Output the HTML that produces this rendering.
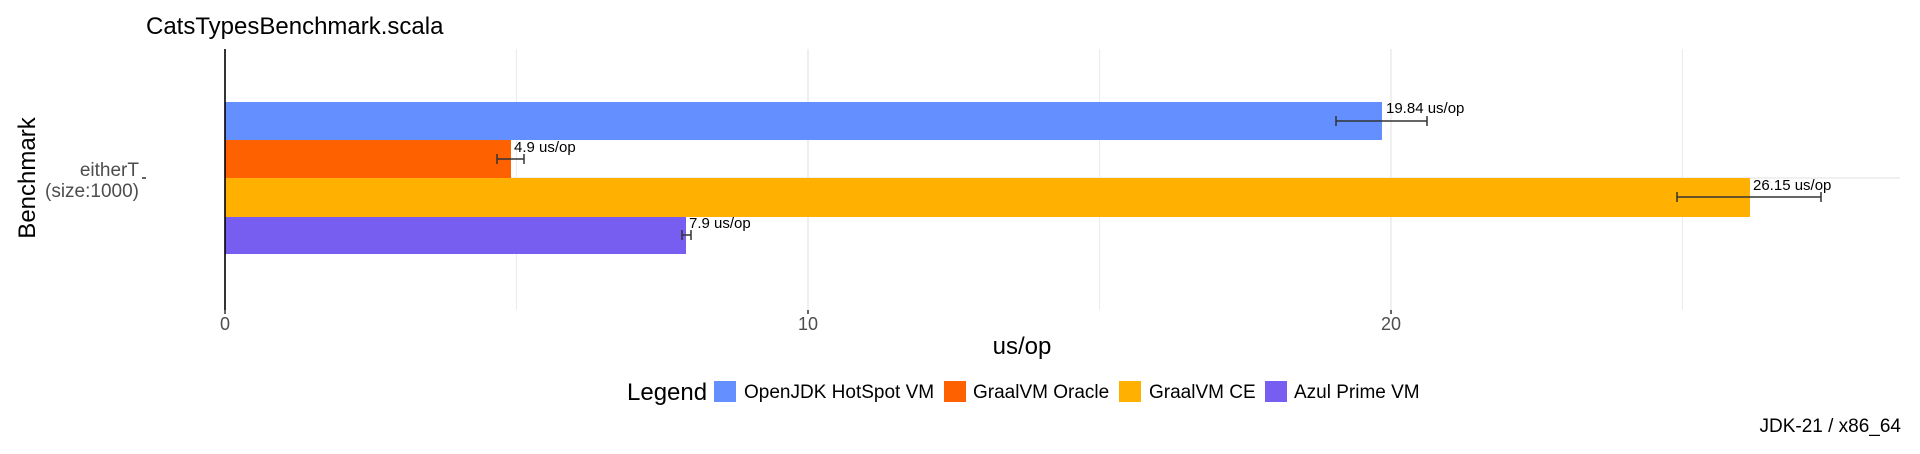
<!DOCTYPE html>
<html><head><meta charset="utf-8"><style>
html,body{margin:0;padding:0;background:#fff;width:1920px;height:454px;overflow:hidden}
svg{display:block;font-family:"Liberation Sans",Arial,sans-serif}
</style></head><body>
<svg width="1920" height="454" viewBox="0 0 1920 454" xmlns="http://www.w3.org/2000/svg">
<rect width="1920" height="454" fill="#fff"/>
<g stroke="#ebebeb" stroke-width="1">
<line x1="516.5" y1="49" x2="516.5" y2="310"/>
<line x1="1099.5" y1="49" x2="1099.5" y2="310"/>
<line x1="1682.5" y1="49" x2="1682.5" y2="310"/>
</g>
<g stroke="#ebebeb" stroke-width="1.6">
<line x1="808" y1="49" x2="808" y2="310"/>
<line x1="1391" y1="49" x2="1391" y2="310"/>
<line x1="225" y1="178" x2="1900" y2="178"/>
</g>
<rect x="225" y="102" width="1157" height="38" fill="#648fff"/>
<rect x="225" y="140" width="286" height="38" fill="#fe6100"/>
<rect x="225" y="178" width="1525" height="39" fill="#ffb000"/>
<rect x="225" y="217" width="461" height="37" fill="#785ef0"/>
<line x1="225" y1="49" x2="225" y2="310" stroke="#000" stroke-width="1.6"/>
<g stroke="#333" stroke-width="1.5">
<line x1="1336" y1="121" x2="1427" y2="121"/><line x1="1336" y1="116" x2="1336" y2="126"/><line x1="1427" y1="116" x2="1427" y2="126"/>
<line x1="497" y1="159" x2="524" y2="159"/><line x1="497" y1="154" x2="497" y2="164"/><line x1="524" y1="154" x2="524" y2="164"/>
<line x1="1677" y1="197" x2="1821" y2="197"/><line x1="1677" y1="192" x2="1677" y2="202"/><line x1="1821" y1="192" x2="1821" y2="202"/>
<line x1="682" y1="235" x2="691" y2="235"/><line x1="682" y1="230" x2="682" y2="240"/><line x1="691" y1="230" x2="691" y2="240"/>
<line x1="142" y1="178" x2="146" y2="178"/>
<line x1="225" y1="310" x2="225" y2="314"/><line x1="808" y1="310" x2="808" y2="314"/><line x1="1391" y1="310" x2="1391" y2="314"/>
</g>
<g font-size="15" fill="#000">
<text x="1386" y="113">19.84 us/op</text>
<text x="514" y="152">4.9 us/op</text>
<text x="1753" y="190">26.15 us/op</text>
<text x="689" y="228">7.9 us/op</text>
</g>
<text x="146" y="34" font-size="24" fill="#000">CatsTypesBenchmark.scala</text>
<g font-size="19" fill="#4d4d4d" text-anchor="end">
<text x="139" y="176">eitherT</text>
<text x="139" y="197">(size:1000)</text>
</g>
<g font-size="18" fill="#4d4d4d" text-anchor="middle">
<text x="225" y="330">0</text><text x="808" y="330">10</text><text x="1391" y="330">20</text>
</g>
<text x="1022" y="354" font-size="24" text-anchor="middle" fill="#000">us/op</text>
<text transform="translate(35,178) rotate(-90)" font-size="24" text-anchor="middle" fill="#000">Benchmark</text>
<text x="627" y="400" font-size="24" fill="#000">Legend</text>
<rect x="714" y="381" width="22" height="21" fill="#648fff"/>
<rect x="944" y="381" width="22" height="21" fill="#fe6100"/>
<rect x="1119" y="381" width="22" height="21" fill="#ffb000"/>
<rect x="1265" y="381" width="22" height="21" fill="#785ef0"/>
<g font-size="19" fill="#000">
<text x="744" y="398">OpenJDK HotSpot VM</text>
<text x="973" y="398">GraalVM Oracle</text>
<text x="1149" y="398">GraalVM CE</text>
<text x="1294" y="398">Azul Prime VM</text>
<text x="1901" y="432" text-anchor="end">JDK-21 / x86_64</text>
</g>
</svg>
</body></html>
